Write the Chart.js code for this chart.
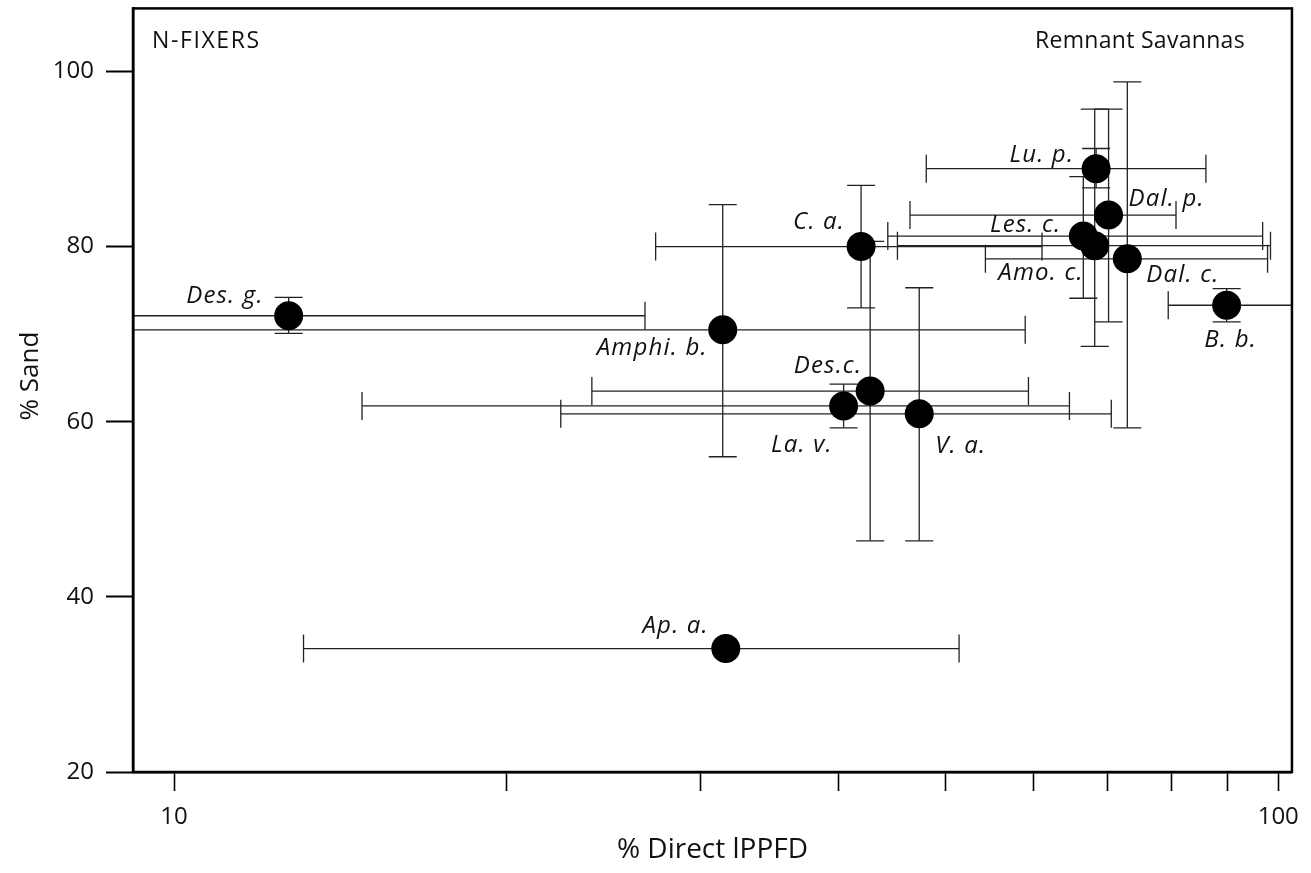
<!DOCTYPE html>
<html lang="en">
<head>
    <meta charset="UTF-8">
    <title>N-Fixers - Remnant Savannas</title>
    <script src="https://cdn.jsdelivr.net/npm/chart.js"></script>
    <style>
        body { margin: 0; background: #fff; overflow: hidden; }
        /* the y scale reserves ~18px above the plot for its top label; pull the canvas up to hide it */
        #wrap { width: 1311px; height: 873px; overflow: hidden; }
        #sandChart { display: block; margin-top: -18px; }
    </style>
</head>
<body>
    <div id="wrap"><canvas id="sandChart" width="1311" height="891"></canvas></div>

    <script>
        // Data
        const SPECIES  = ['Des. g.', 'Amphi. b.', 'C. a.', 'Lu. p.', 'Dal. p.', 'Les. c.', 'Amo. c.', 'Dal. c.', 'B. b.', 'Des.c.', 'La. v.', 'V. a.', 'Ap. a.'];
        const LIGHT    = [12.7, 31.4, 41.9, 68.4, 70.2, 66.6, 68.2, 73.0, 89.8, 42.7, 40.4, 47.3, 31.6];
        const LIGHT_LO = [6.0,  6.0,  27.3, 48.0, 46.4, 44.3, 45.2, 54.3, 79.5, 23.9, 14.8, 22.4, 13.1];
        const LIGHT_HI = [26.7, 59.0, 61.1, 86.0, 80.8, 96.8, 98.4, 97.8, 112,  59.4, 64.7, 70.6, 51.4];
        const SAND     = [72.1, 70.5, 80.0, 88.9, 83.6, 81.2, 80.1, 78.6, 73.3, 63.5, 61.8, 60.9, 34.1];
        const SAND_LO  = [70.1, 56.0, 73.0, 86.7, 71.4, 74.1, 68.6, 59.3, 71.4, 46.4, 59.3, 46.4, null];
        const SAND_HI  = [74.2, 84.8, 87.0, 91.2, 95.7, 88.0, 95.7, 98.8, 75.2, 80.6, 64.3, 75.3, null];

        const X_TICKS = [10, 20, 30, 40, 50, 60, 70, 80, 90, 100];
        const X_LABELED = [10, 100];
        const Y_TICKS = [20, 40, 60, 80, 100];

        // label placement relative to each point: dx, dy (baseline), alignment
        const LABEL_POS = [
            [-25, -13, 'right'], [-15, 25, 'right'], [-16, -18, 'right'], [-22, -7, 'right'],
            [20, -9, 'left'], [-22, -4, 'right'], [-11, 34, 'right'], [19, 23, 'left'],
            [4, 42, 'center'], [-8, -18, 'right'], [-11, 46, 'right'], [16, 39, 'left'],
            [-17, -16, 'right']
        ];

        const FONT = "'Open Sans', sans-serif";
        const CAP = 14;
        const SHIFT = 18; // same as the css margin-top

        const errorBars = {
            id: 'errorBars',
            beforeDatasetsDraw(chart) {
                const { ctx, chartArea: a, scales: { x, y } } = chart;
                ctx.save();
                ctx.beginPath();
                ctx.rect(a.left, a.top, a.right - a.left, a.bottom - a.top);
                ctx.clip();
                ctx.strokeStyle = '#222';
                ctx.lineWidth = 1.3;
                const seg = (x0, y0, x1, y1) => { ctx.beginPath(); ctx.moveTo(x0, y0); ctx.lineTo(x1, y1); ctx.stroke(); };
                SPECIES.forEach((_, i) => {
                    const px = x.getPixelForValue(LIGHT[i]);
                    const py = y.getPixelForValue(SAND[i]);
                    const xl = x.getPixelForValue(LIGHT_LO[i]);
                    const xh = x.getPixelForValue(LIGHT_HI[i]);
                    seg(xl, py, xh, py);
                    seg(xl, py - CAP, xl, py + CAP);
                    seg(xh, py - CAP, xh, py + CAP);
                    if (SAND_LO[i] != null) {
                        const yl = y.getPixelForValue(SAND_LO[i]);
                        const yh = y.getPixelForValue(SAND_HI[i]);
                        seg(px, yl, px, yh);
                        seg(px - CAP, yl, px + CAP, yl);
                        seg(px - CAP, yh, px + CAP, yh);
                    }
                });
                ctx.restore();
            },
            afterDatasetsDraw(chart) {
                const { ctx, chartArea: a, scales: { x, y } } = chart;
                ctx.save();
                ctx.fillStyle = '#111';
                ctx.textBaseline = 'alphabetic';
                ctx.font = 'italic 24px ' + FONT;
                ctx.letterSpacing = '1.2px';
                SPECIES.forEach((name, i) => {
                    const [dx, dy, al] = LABEL_POS[i];
                    ctx.textAlign = al;
                    ctx.fillText(name, x.getPixelForValue(LIGHT[i]) + dx, y.getPixelForValue(SAND[i]) + dy);
                });
                // corner notes
                ctx.font = '23px ' + FONT;
                ctx.letterSpacing = '1.6px';
                ctx.textAlign = 'left';
                ctx.fillText('N-FIXERS', a.left + 19, a.top + 40);
                ctx.letterSpacing = '0.3px';
                ctx.textAlign = 'right';
                ctx.fillText('Remnant Savannas', a.right - 47, a.top + 40);
                ctx.letterSpacing = '0px';
                // y axis title
                ctx.font = '26px ' + FONT;
                ctx.textAlign = 'center';
                ctx.textBaseline = 'middle';
                ctx.translate(31, 376 + SHIFT);
                ctx.rotate(-Math.PI / 2);
                ctx.fillText('% Sand', 0, 0);
                ctx.restore();
                // box
                ctx.save();
                ctx.strokeStyle = '#000';
                ctx.lineWidth = 2.5;
                ctx.strokeRect(a.left, a.top, a.right - a.left, a.bottom - a.top);
                ctx.restore();
            }
        };

        new Chart(document.getElementById('sandChart'), {
            type: 'scatter',
            data: {
                datasets: [{
                    data: LIGHT.map((v, i) => ({ x: v, y: SAND[i] })),
                    backgroundColor: '#000',
                    borderWidth: 0,
                    pointRadius: 14.5,
                    pointHoverRadius: 14.5
                }]
            },
            options: {
                responsive: false,
                animation: false,
                devicePixelRatio: 1,
                layout: { padding: { top: 8, right: 15, left: 0, bottom: 0 } },
                plugins: { legend: { display: false }, tooltip: { enabled: false } },
                scales: {
                    x: {
                        type: 'logarithmic',
                        min: 9.18,
                        max: 102.9,
                        afterBuildTicks: s => { s.ticks = X_TICKS.map(v => ({ value: v })); },
                        afterFit: s => { s.height = 101; },
                        grid: { drawOnChartArea: false, drawTicks: true, tickLength: 19, tickWidth: 1.6, tickColor: '#000' },
                        border: { display: true, color: '#000', width: 2.5 },
                        ticks: {
                            autoSkip: false, maxRotation: 0, padding: 12, color: '#111',
                            font: { family: FONT, size: 24 },
                            callback: v => X_LABELED.includes(v) ? String(v) : ''
                        },
                        title: {
                            display: true, text: '% Direct lPPFD', color: '#111',
                            font: { family: FONT, size: 28 }, padding: { top: 0, bottom: 6 }
                        }
                    },
                    y: {
                        min: 20,
                        max: 107.2,
                        afterBuildTicks: s => { s.ticks = Y_TICKS.map(v => ({ value: v })); },
                        afterFit: s => { s.width = 133; },
                        grid: { drawOnChartArea: false, drawTicks: true, tickLength: 27, tickWidth: 2, tickColor: '#000' },
                        border: { display: true, color: '#000', width: 2.5 },
                        ticks: {
                            padding: 12, color: '#111',
                            font: { family: FONT, size: 24 }
                        },
                        title: { display: false }
                    }
                }
            },
            plugins: [errorBars]
        });
    </script>
</body>
</html>
